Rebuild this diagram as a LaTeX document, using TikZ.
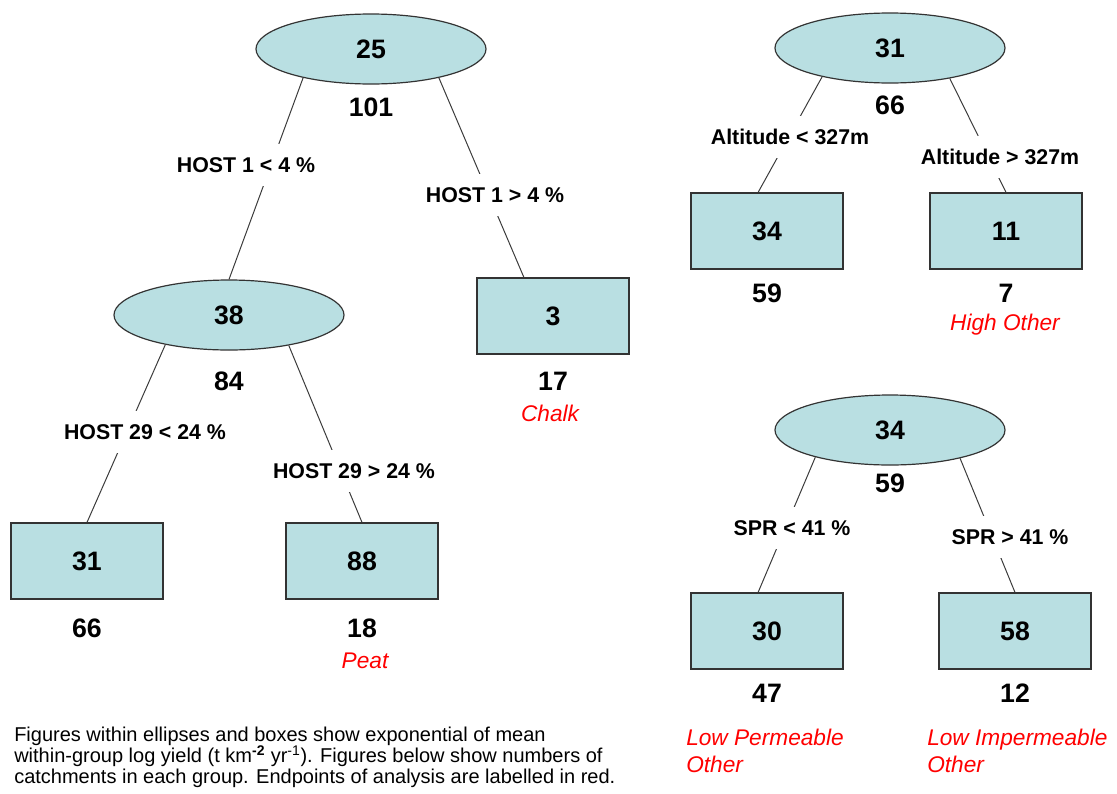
\documentclass[tikz,border=0pt]{standalone}
\usepackage{fontspec}
\setmainfont{Liberation Sans}
\usetikzlibrary{shapes.geometric}
\definecolor{groupfill}{RGB}{185,223,226}
\definecolor{branchgray}{RGB}{60,60,60}
\tikzset{
  splitnode/.style={ellipse, draw=black!80, fill=groupfill, line width=0.9pt, minimum width=172.5pt, minimum height=52.5pt, inner sep=0pt, font=\bfseries\fontsize{20}{24}\selectfont},
  endnode/.style={rectangle, draw=black!80, fill=groupfill, line width=0.9pt, minimum width=114pt, minimum height=57pt, inner sep=0pt, font=\bfseries\fontsize{20}{24}\selectfont},
  catch/.style={inner sep=0pt, font=\bfseries\fontsize{20}{24}\selectfont},
  splitrule/.style={fill=white, inner xsep=2pt, inner ysep=10pt, font=\bfseries\fontsize{16}{19}\selectfont},
  endlabel/.style={red, inner sep=0pt, font=\itshape\fontsize{17}{20.25}\selectfont},
  branch/.style={draw=branchgray, line width=0.75pt}
}
\begin{document}
\begin{tikzpicture}[x=0.75pt,y=-0.75pt]
    \useasboundingbox (0,0) rectangle (1117,793);
    % groups that are split again
    \foreach \x/\y/\v [count=\i from 1] in {371/49/25,229/315/38,890/48/31,890/430/34} {\node[splitnode] (e\i) at (\x,\y) {\v};}
    % end groups
    \foreach \x/\y/\v [count=\i from 1] in {553/316/3,87/561/31,362/561/88,767/231/34,1006/231/11,767/631/30,1015/631/58} {\node[endnode] (b\i) at (\x,\y) {\v};}
    % numbers of catchments
    \foreach \x/\y/\v [count=\i from 1] in {371/107/101,229/381/84,553/381/17,87/628/66,362/628/18,890/105/66,767/293/59,1006/293/7,890/483/59,767/693/47,1015/693/12} {\node[catch] (n\i) at (\x,\y) {\v};}
    \draw[branch] (e1.-157) -- (e2.north);
    \draw[branch] (e1.-23) -- (b1.127);
    \draw[branch] (e2.-155) -- (b2.north);
    \draw[branch] (e2.-27) -- (b3.north);
    \draw[branch] (e3.-157) -- (b4.103);
    \draw[branch] (e3.-27) -- (b5.north);
    \draw[branch] (e4.-160) -- (b6.103);
    \draw[branch] (e4.-22) -- (b7.north);
    % split rules over the branches
    \node[splitrule] (r1) at (246,165) {HOST 1 < 4 \%};
    \node[splitrule] (r2) at (495,195) {HOST 1 > 4 \%};
    \node[splitrule] (r3) at (145,432) {HOST 29 < 24 \%};
    \node[splitrule] (r4) at (354,471) {HOST 29 > 24 \%};
    \node[splitrule] (r5) at (790,137) {Altitude < 327m};
    \node[splitrule] (r6) at (1000,157) {Altitude > 327m};
    \node[splitrule] (r7) at (792,528) {SPR < 41 \%};
    \node[splitrule] (r8) at (1010,537) {SPR > 41 \%};
    \node[endlabel] (l1) at (550,413) {Chalk};
    \node[endlabel] (l2) at (365,661) {Peat};
    \node[endlabel] (l3) at (1005,325) {High Other};
    \node[endlabel, align=left, anchor=north west] (l4) at (686,729) {Low Permeable\\Other};
    \node[endlabel, align=left, anchor=north west] (l5) at (927,729) {Low Impermeable\\Other};
    \node[anchor=north west, align=left, inner sep=0pt, font=\fontsize{15}{15.75}\selectfont] (note) at (14,727) {Figures within ellipses and boxes show exponential of mean\\within-group log yield (t km\textsuperscript{\textbf{-2}} yr\textsuperscript{-1}). Figures below show numbers of\\catchments in each group. Endpoints of analysis are labelled in red.};
  \end{tikzpicture}
\end{document}
